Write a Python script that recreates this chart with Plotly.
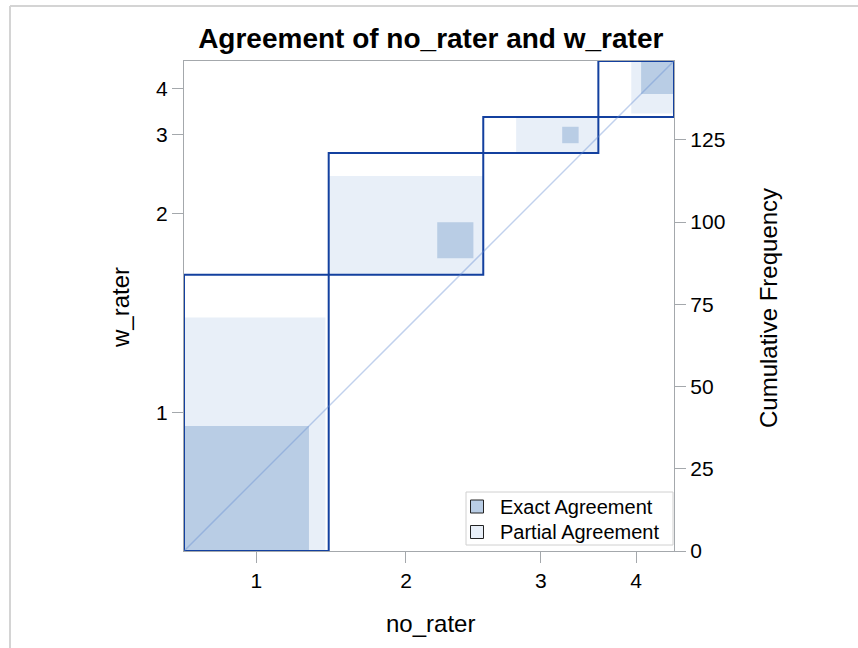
import plotly.graph_objects as go

# Contingency table: rows = w_rater (1..4), columns = no_rater (1..4)
categories = ["1", "2", "3", "4"]
row1 = [38, 33, 10, 3]
row2 = [5, 11, 14, 7]
row3 = [0, 3, 5, 3]
row4 = [1, 0, 6, 10]
cum_ticks = [0, 25, 50, 75, 100, 125]
legend_names = ["Exact Agreement", "Partial Agreement"]

table = [row1, row2, row3, row4]
k = len(categories)
N = sum(sum(r) for r in table)
row_tot = [sum(table[i]) for i in range(k)]
col_tot = [sum(table[i][j] for i in range(k)) for j in range(k)]
X = [0]
Y = [0]
for j in range(k):
    X.append(X[-1] + col_tot[j])
    Y.append(Y[-1] + row_tot[j])

C_EXACT = "#b9cde5"
C_PART = "#e8eff8"
C_LINE = "#13409f"
C_AXIS = "#a4a8ac"
FONT = "Liberation Sans, Arial, sans-serif"

def rect(x0, x1, y0, y1):
    return [x0, x1, x1, x0, x0], [y0, y0, y1, y1, y0]

fig = go.Figure()

# partial agreement
for i in range(k):
    lo = max(i - 1, 0)
    hi = min(i + 1, k - 1)
    px0 = X[i] + sum(table[r][i] for r in range(lo))
    pw_ = sum(table[r][i] for r in range(lo, hi + 1))
    py0 = Y[i] + sum(table[i][c] for c in range(lo))
    ph_ = sum(table[i][c] for c in range(lo, hi + 1))
    xs, ys = rect(px0, px0 + pw_, py0, py0 + ph_)
    fig.add_trace(go.Scatter(x=xs, y=ys, mode="lines", fill="toself",
                             fillcolor=C_PART, line=dict(width=0, color=C_PART),
                             showlegend=False, hoverinfo="skip"))
# exact agreement
for i in range(k):
    ex0 = X[i] + sum(table[r][i] for r in range(i))
    ey0 = Y[i] + sum(table[i][c] for c in range(i))
    n = table[i][i]
    xs, ys = rect(ex0, ex0 + n, ey0, ey0 + n)
    fig.add_trace(go.Scatter(x=xs, y=ys, mode="lines", fill="toself",
                             fillcolor=C_EXACT, line=dict(width=0, color=C_EXACT),
                             showlegend=False, hoverinfo="skip"))

# diagonal reference (on the cumulative axis)
fig.add_trace(go.Scatter(x=[0, N], y=[0, N], mode="lines", yaxis="y2",
                         line=dict(color="rgba(100,140,210,0.4)", width=1.5),
                         showlegend=False, hoverinfo="skip"))

# rectangles of marginal totals
for i in range(k):
    xs, ys = rect(X[i], X[i + 1], Y[i], Y[i + 1])
    fig.add_trace(go.Scatter(x=xs, y=ys, mode="lines",
                             line=dict(color=C_LINE, width=2),
                             showlegend=False, hoverinfo="skip"))

xcent = [(X[j] + X[j + 1]) / 2 for j in range(k)]
ycent = [(Y[j] + Y[j + 1]) / 2 for j in range(k)]

W, H = 858, 648
L, T = 184, 61
pw = 490
ph = 490
R = W - L - pw
B = H - T - ph

def px(xpix):
    return (xpix - L) / pw

def py(ypix):
    return (T + ph - ypix) / ph

axis_common = dict(showgrid=False, zeroline=False, showline=True, linecolor=C_AXIS,
                   linewidth=1.2, ticks="outside", ticklen=11, tickcolor=C_AXIS,
                   tickwidth=1.2, tickfont=dict(family=FONT, size=21, color="#000000"),
                   range=[0, N], fixedrange=True)

# legend (box, swatches, labels)
leg_shapes = [
    dict(type="rect", xref="paper", yref="paper", x0=px(466), x1=px(673),
         y0=py(545), y1=py(492), fillcolor="white", line=dict(color="#d0d0d0", width=1),
         layer="above"),
]
leg_ann = []
for name, col, yc in zip(legend_names, [C_EXACT, C_PART], [506.5, 532]):
    leg_shapes.append(dict(type="rect", xref="paper", yref="paper",
                           x0=px(470.5), x1=px(483.5), y0=py(yc + 6.5), y1=py(yc - 6.5),
                           fillcolor=col, line=dict(color="#222222", width=1), layer="above"))
    leg_ann.append(dict(text=name, xref="paper", yref="paper", x=px(498), y=py(yc),
                        xanchor="left", yanchor="middle", showarrow=False,
                        font=dict(family=FONT, size=20, color="#000000")))

fig.update_layout(
    width=W, height=H,
    margin=dict(l=L, r=R, t=T, b=B),
    paper_bgcolor="white", plot_bgcolor="white",
    font=dict(family=FONT, color="#000000"),
    title=dict(text="<b>Agreement of no_rater and w_rater</b>", x=px(430), xanchor="center",
               y=1 - 38 / H, yanchor="middle",
               font=dict(family=FONT, size=28, color="#000000")),
    xaxis=dict(axis_common, tickvals=xcent, ticktext=categories, mirror=True),
    yaxis=dict(axis_common, tickvals=ycent, ticktext=categories),
    yaxis2=dict(axis_common, overlaying="y", side="right", tickvals=cum_ticks,
                ticktext=[str(v) for v in cum_ticks]),
    showlegend=False,
    annotations=[
        dict(text="no_rater", xref="paper", yref="paper", x=px(430), y=py(623),
             xanchor="center", yanchor="middle", showarrow=False,
             font=dict(family=FONT, size=24, color="#000000")),
        dict(text="w_rater", xref="paper", yref="paper", x=px(120), y=py(308),
             xanchor="center", yanchor="middle", showarrow=False, textangle=-90,
             font=dict(family=FONT, size=24, color="#000000")),
        dict(text="Cumulative Frequency", xref="paper", yref="paper", x=px(768), y=py(308),
             xanchor="center", yanchor="middle", showarrow=False, textangle=-90,
             font=dict(family=FONT, size=24, color="#000000")),
    ] + leg_ann,
    shapes=[
        dict(type="line", xref="paper", yref="paper", x0=px(10), x1=px(10),
             y0=py(6), y1=py(700), line=dict(color="#d4d4d4", width=2), layer="below"),
        dict(type="line", xref="paper", yref="paper", x0=px(10), x1=px(900),
             y0=py(6), y1=py(6), line=dict(color="#d4d4d4", width=2), layer="below"),
    ] + leg_shapes,
)

fig.write_html("out.html", config={"displayModeBar": False},
               post_script="document.body.style.margin='0';document.body.style.padding='0';")
